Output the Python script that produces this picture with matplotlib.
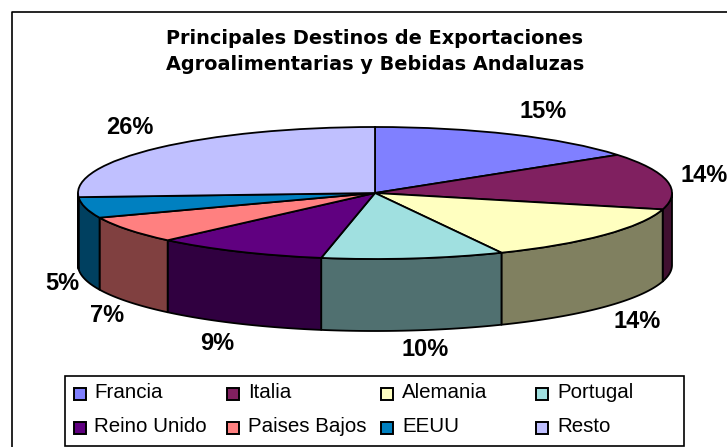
import numpy as np
import matplotlib
matplotlib.use("Agg")
import matplotlib.pyplot as plt
from matplotlib.patches import Rectangle

W, H = 727, 447

countries = ["Francia", "Italia", "Alemania", "Portugal",
             "Reino Unido", "Paises Bajos", "EEUU", "Resto"]
shares = [15.2, 13.8, 14.0, 9.9, 9.4, 6.6, 5.1, 26.0]
colors = ["#8080FF", "#802060", "#FFFFC0", "#A0E0E0",
          "#600080", "#FF8080", "#0080C0", "#C0C0FF"]
title = "Principales Destinos de Exportaciones\nAgroalimentarias y Bebidas Andaluzas"

# pixel layout of the reference
cx, cy, rx, ry, depth = 375, 193, 297, 66, 72
label_pos = [(543, 111), (704, 175), (637, 321), (425, 350),
             (217, 343), (107, 315), (62, 284), (130, 127)]
legend_x = [79.5, 233, 387, 542]
legend_y = [394, 428]

plt.rcParams["font.family"] = ["Liberation Sans", "DejaVu Sans"]


def side_color(c):
    r, g, b = matplotlib.colors.to_rgb(c)
    return (r / 2, g / 2, b / 2)


def draw_wall(ax, values):
    # the visible rim of the pie, only where the slice faces downwards
    d = depth / ry
    ends = 90 - 360 * np.cumsum(values) / sum(values)
    starts = np.r_[90, ends[:-1]]
    for a, b, c in zip(starts, ends, colors):
        a2, b2 = min(a, 0) if a > -180 else a, max(b, -180)
        if a2 <= b2:
            continue
        t = np.radians(np.linspace(a2, b2, 60))
        xs = np.r_[np.cos(t), np.cos(t[::-1])]
        ys = np.r_[np.sin(t), np.sin(t[::-1]) - d]
        ax.fill(xs, ys, facecolor=side_color(c), edgecolor="black",
                linewidth=1.3, clip_on=False, joinstyle="round")


fig = plt.figure(figsize=(W / 100, H / 100), dpi=100)

# overlay in pixel coordinates for frame, text and legend
bg = fig.add_axes([0, 0, 1, 1])
bg.set_xlim(0, W)
bg.set_ylim(H, 0)
bg.axis("off")
bg.plot([11.5, 11.5, W + 2], [H + 2, 12, 12], color="black", lw=1.2)
bg.text(375, 51.5, title, ha="center", va="center", fontsize=13.9,
        fontweight="bold", linespacing=1.4, family=["DejaVu Sans"])

ax = fig.add_axes([(cx - rx) / W, (H - cy - ry) / H, 2 * rx / W, 2 * ry / H])
draw_wall(ax, shares)
ax.pie(shares, colors=colors, startangle=90, counterclock=False, radius=1,
       wedgeprops={"edgecolor": "black", "linewidth": 1.3, "clip_on": False})
ax.set_aspect("auto")
ax.set_xlim(-1, 1)
ax.set_ylim(-1, 1)
ax.axis("off")

top = fig.add_axes([0, 0, 1, 1])
top.set_xlim(0, W)
top.set_ylim(H, 0)
top.axis("off")
top.patch.set_alpha(0)
for v, (x, y) in zip(shares, label_pos):
    top.text(x, y, f"{v:.0f}%", ha="center", va="center", fontsize=17, fontweight="bold")

top.add_patch(Rectangle((65, 376), 619, 70, facecolor="white", edgecolor="black", lw=1.2))
for i, (name, c) in enumerate(zip(countries, colors)):
    x = legend_x[i % 4]
    y = legend_y[i // 4]
    top.add_patch(Rectangle((x - 6, y - 6), 12, 12, facecolor=c, edgecolor="black", lw=1.4))
    top.text(x + 15, y - 1, name, ha="left", va="center", fontsize=14.8)

fig.savefig("out.png", dpi=100)
